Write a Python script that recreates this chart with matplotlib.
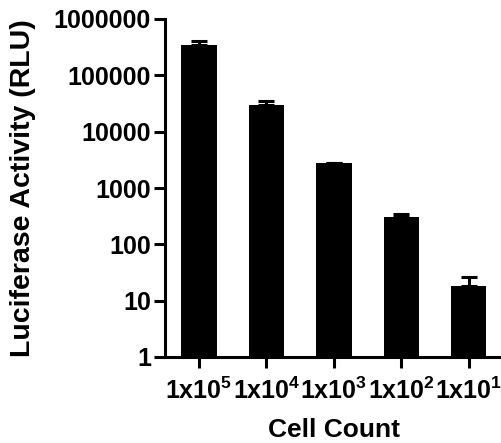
import numpy as np
import matplotlib
matplotlib.use('Agg')
import matplotlib.pyplot as plt

# Luciferase activity by cell count
cell_labels = ['1x10$^{5}$', '1x10$^{4}$', '1x10$^{3}$', '1x10$^{2}$', '1x10$^{1}$']
rlu_mean = [345000, 29700, 2830, 300, 18.5]
rlu_upper = [410000, 34700, 2830, 344, 26.7]

plt.rcParams['font.family'] = ['Liberation Sans', 'DejaVu Sans']
plt.rcParams['font.weight'] = 'bold'
plt.rcParams['mathtext.fontset'] = 'custom'
plt.rcParams['mathtext.rm'] = 'Liberation Sans:bold'
plt.rcParams['mathtext.bf'] = 'Liberation Sans:bold'
plt.rcParams['mathtext.default'] = 'regular'

fig = plt.figure(figsize=(5.02, 4.43), dpi=100)
ax = fig.add_axes([165 / 502, 1 - 357 / 443, 337 / 502, 338 / 443])

x = np.arange(len(rlu_mean))
err_up = np.array(rlu_upper) - np.array(rlu_mean)
err = [np.zeros(len(rlu_mean)), err_up]

ax.bar(x, rlu_mean, width=0.52, color='black', zorder=2)
ax.errorbar(x, rlu_mean, yerr=err, fmt='none', ecolor='black',
            elinewidth=2.2, capsize=5.5, capthick=2.2, zorder=3)

ax.set_yscale('log')
ax.set_ylim(1, 1e6)
ax.set_xlim(-0.504, 4.49)
ax.set_yticks([1, 10, 100, 1000, 10000, 100000, 1000000])
ax.set_yticklabels(['1', '10', '100', '1000', '10000', '100000', '1000000'])
ax.yaxis.set_minor_locator(matplotlib.ticker.NullLocator())
ax.set_xticks(x)
ax.set_xticklabels(cell_labels)

for side in ['top', 'right']:
    ax.spines[side].set_visible(False)
for side in ['left', 'bottom']:
    ax.spines[side].set_linewidth(2.2)
ax.tick_params(width=2.2, length=8, labelsize=18, pad=2)
ax.tick_params(axis='x', pad=7)

ax.set_xlabel('Cell Count', fontsize=19, fontweight='bold', labelpad=10)
ax.set_ylabel('Luciferase Activity (RLU)', fontsize=20.5, fontweight='bold', labelpad=13)

fig.savefig('out.png', dpi=100)
